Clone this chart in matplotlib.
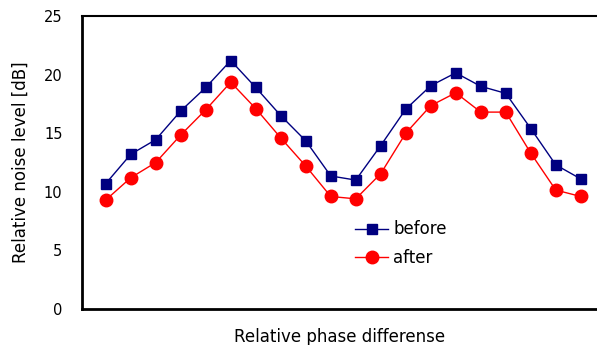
import matplotlib
matplotlib.use('Agg')
from matplotlib import pyplot as plt

# phase step index
steps = list(range(1, 21))
before = [10.7, 13.2, 14.45, 16.9, 18.9, 21.2, 18.9, 16.5, 14.35, 11.35,
          11.0, 13.95, 17.05, 19.05, 20.15, 19.0, 18.4, 15.4, 12.3, 11.1]
after = [9.3, 11.2, 12.5, 14.85, 17.0, 19.35, 17.1, 14.6, 12.2, 9.6,
         9.4, 11.55, 15.0, 17.35, 18.45, 16.8, 16.8, 13.3, 10.15, 9.6]
yticks = [0, 5, 10, 15, 20, 25]

plt.rcParams['font.family'] = ['DejaVu Sans']
fig = plt.figure(figsize=(5.97, 3.45), dpi=100)
ax = fig.add_axes([82 / 597, 36 / 345, 1 - 82 / 597, 293 / 345])

ax.plot(steps, before, c='#000080', lw=1, marker='s', ms=7.5, label='before')
ax.plot(steps, after, c='#ff0000', lw=1, marker='o', ms=9, label='after')

ax.set_xlim(0.05, 20.65)
ax.set_ylim(0, 25)
ax.set_yticks(yticks)
ax.set_xticks([])
ax.tick_params(axis='y', length=0, pad=14, labelsize=10.5)

for s in ['left', 'bottom']:
    ax.spines[s].set_linewidth(2)
ax.spines['top'].set_linewidth(1.5)
ax.spines['right'].set_visible(False)

ax.set_ylabel('Relative noise level [dB]', fontsize=12, labelpad=10)
ax.set_xlabel('Relative phase differense', fontsize=12, labelpad=14)

ax.legend(loc='upper left', bbox_to_anchor=(0.517, 0.325), frameon=False,
          fontsize=12, handlelength=2.0, handletextpad=0.3, labelspacing=0.62,
          borderaxespad=0)

fig.savefig('out.png', dpi=100)
